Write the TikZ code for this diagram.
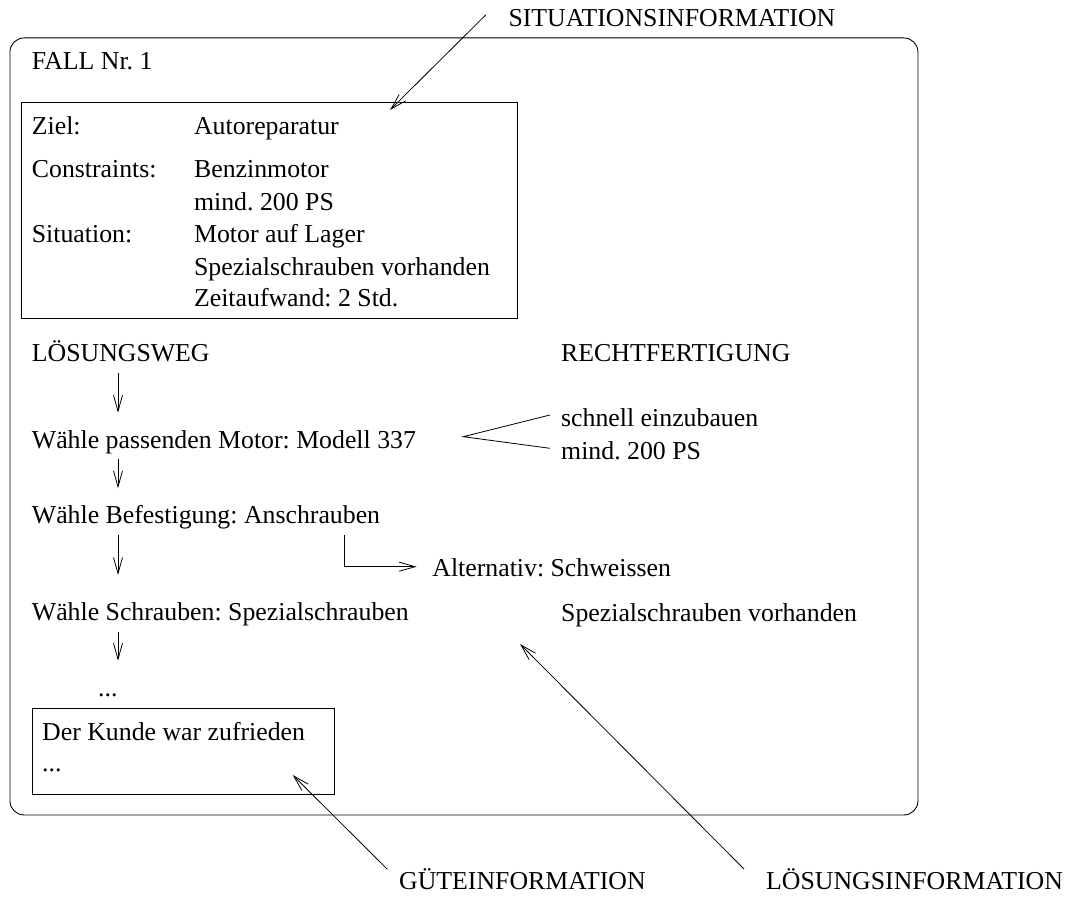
\documentclass[tikz,border=0pt]{standalone}
\usepackage{fontspec}
\setmainfont{Liberation Serif}
\usetikzlibrary{arrows.meta}
\frenchspacing
\begin{document}
\begin{tikzpicture}[x=1pt,y=-1pt,
  txt/.style={anchor=base west, inner sep=0pt, font=\fontsize{25.8}{30}\selectfont},
  arr/.style={-{Straight Barb[length=16pt,width=9pt]}, line width=0.8pt},
  plain/.style={line width=0.8pt},
  boxed/.style={draw, line width=0.9pt, anchor=north west, inner sep=0pt}]
\useasboundingbox (0,0) rectangle (1069,899);

% case frame and the two boxes inside it
\node (case) [boxed, rounded corners=14pt, minimum width=908pt, minimum height=777pt] at (9.5,37.5) {};
\node (sitbox) [boxed, minimum width=496.5pt, minimum height=216pt] at (20.7,102.3) {};
\node (qualbox) [boxed, minimum width=302.3pt, minimum height=86.3pt] at (31.7,707.7) {};

% header
\node (fall) [txt] at (31.7,70) {FALL Nr. 1};

% situation block
\node (ziel) [txt] at (31.7,135) {Ziel:};
\node (zielv) [txt] at (193.9,135) {Autoreparatur};
\node (constr) [txt] at (31.7,177.7) {Constraints:};
\node (constrv1) [txt] at (193.9,177.7) {Benzinmotor};
\node (constrv2) [txt] at (193.9,210) {mind. 200 PS};
\node (situ) [txt] at (31.7,242.3) {Situation:};
\node (situv1) [txt] at (193.9,242.3) {Motor auf Lager};
\node (situv2) [txt] at (193.9,275) {Spezialschrauben vorhanden};
\node (situv3) [txt] at (193.9,306.7) {Zeitaufwand: 2 Std.};

% solution path and justification
\node (weg) [txt] at (31.7,361.7) {LÖSUNGSWEG};
\node (recht) [txt] at (561,361.7) {RECHTFERTIGUNG};
\node (motor) [txt] at (31.7,448.3) {Wähle passenden Motor: Modell 337};
\node (just1) [txt] at (561,426.7) {schnell einzubauen};
\node (just2) [txt] at (561,459) {mind. 200 PS};
\node (befest) [txt] at (31.7,523.3) {Wähle Befestigung: Anschrauben};
\node (altern) [txt] at (432.2,576.7) {Alternativ: Schweissen};
\node (schraub) [txt] at (31.7,620) {Wähle Schrauben: Spezialschrauben};
\node (just3) [txt] at (561,621.7) {Spezialschrauben vorhanden};
\node (dots) [txt] at (98,696.7) {...};

% quality block
\node (kunde) [txt] at (42,740) {Der Kunde war zufrieden};
\node (kdots) [txt] at (42,771.7) {...};

% outside labels
\node (sitlab) [txt] at (508.3,26.7) {SITUATIONSINFORMATION};
\node (gutlab) [txt] at (399,889) {GÜTEINFORMATION};
\node (loslab) [txt] at (766,889) {LÖSUNGSINFORMATION};

% connector end points
\coordinate (s1a) at (118,373.3);  \coordinate (s1b) at (118,412.7);
\coordinate (s2a) at (118,459.3);  \coordinate (s2b) at (118,488.3);
\coordinate (s3a) at (118,535);    \coordinate (s3b) at (118,575);
\coordinate (s4a) at (118,631.7);  \coordinate (s4b) at (118,660.7);
\coordinate (alta) at (344.4,535); \coordinate (altb) at (416.7,566.7);
\coordinate (fork) at (463.3,436.7);
\coordinate (forku) at (550,415);  \coordinate (forkl) at (550,448.3);
\coordinate (sitt) at (485.7,15);  \coordinate (sith) at (390,110);
\coordinate (gutt) at (387.4,869.3); \coordinate (guth) at (292.7,775);
\coordinate (lost) at (744,869);   \coordinate (losh) at (520,644);

% solution steps
\draw[arr] (s1a) -- (s1b);
\draw[arr] (s2a) -- (s2b);
\draw[arr] (s3a) -- (s3b);
\draw[arr] (s4a) -- (s4b);
\draw[arr] (alta) |- (altb);
\draw[plain] (forku) -- (fork) -- (forkl);

% label pointers
\draw[arr] (sitt) -- (sith);
\draw[arr] (gutt) -- (guth);
\draw[arr] (lost) -- (losh);
\end{tikzpicture}
\end{document}
